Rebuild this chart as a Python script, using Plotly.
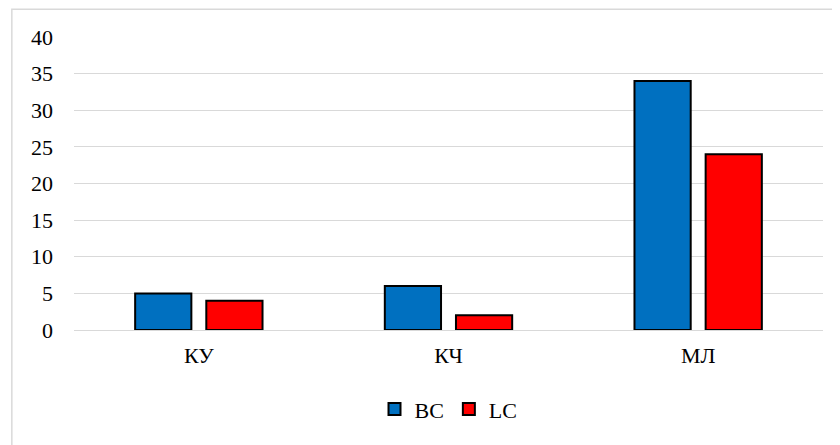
import plotly.graph_objects as go

categories = ["КУ", "КЧ", "МЛ"]
vc_values = [5, 6, 34]
lc_values = [4, 2, 24]
y_ticks = [0, 5, 10, 15, 20, 25, 30, 35, 40]

FONT = "Liberation Serif, Times New Roman, serif"

fig = go.Figure()
fig.add_trace(go.Bar(name="ВС", x=categories, y=vc_values,
                     marker=dict(color="#0070C0", line=dict(color="black", width=2))))
fig.add_trace(go.Bar(name="LC", x=categories, y=lc_values,
                     marker=dict(color="#FF0000", line=dict(color="black", width=2))))

fig.update_layout(
    width=832, height=437,
    margin=dict(l=66, r=17, t=29, b=115),
    paper_bgcolor="white", plot_bgcolor="white",
    font=dict(family=FONT, size=22, color="black"),
    barmode="group", bargap=0.43, bargroupgap=0.21,
    showlegend=True,
    legend=dict(orientation="h", x=0.5, xanchor="center", y=-0.27, yanchor="middle",
                font=dict(family=FONT, size=22), itemwidth=30, traceorder="normal"),
    xaxis=dict(showgrid=False, showline=False, ticks="", ticklabelstandoff=10,
               tickfont=dict(family=FONT, size=22)),
    yaxis=dict(range=[0, 40], tickvals=y_ticks, showgrid=True, gridcolor="#d9d9d9",
               gridwidth=1, zeroline=True, zerolinecolor="#d9d9d9", zerolinewidth=1,
               showline=False, ticks="", ticklabelstandoff=20,
               tickfont=dict(family=FONT, size=22)),
    shapes=[dict(type="rect", xref="paper", yref="paper", x0=-0.083, x1=1.05,
                 y0=-0.6, y1=1.095, line=dict(color="#d9d9d9", width=1.5),
                 fillcolor="rgba(0,0,0,0)", layer="below")],
)

fig.write_html("out.html")
